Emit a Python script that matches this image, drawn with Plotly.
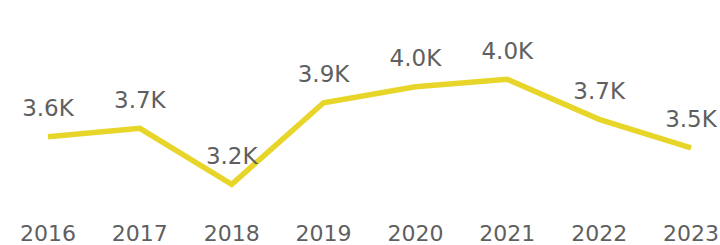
import plotly.graph_objects as go

years = ["2016", "2017", "2018", "2019", "2020", "2021", "2022", "2023"]
values = [3591, 3657, 3220, 3856, 3981, 4039, 3727, 3505]
labels = [f"{v/1000:.1f}K" for v in values]

LINE_COLOR = "#E8D52A"
TEXT_COLOR = "#5F5F5F"
FONT = "DejaVu Sans"

fig = go.Figure(
    go.Scatter(
        x=years,
        y=values,
        mode="lines+markers+text",
        text=labels,
        textposition="top center",
        textfont=dict(family=FONT, size=23, color=TEXT_COLOR),
        line=dict(color=LINE_COLOR, width=5.5),
        marker=dict(size=22, color="rgba(0,0,0,0)"),
        cliponaxis=False,
        hoverinfo="skip",
    )
)

fig.update_layout(
    width=720,
    height=245,
    margin=dict(l=0, r=0, t=0, b=30, autoexpand=False),
    paper_bgcolor="white",
    plot_bgcolor="white",
    showlegend=False,
    font=dict(family=FONT, color=TEXT_COLOR),
    xaxis=dict(
        type="category",
        range=[-0.5225, 7.3155],
        automargin=False,
        showgrid=False,
        zeroline=False,
        showline=False,
        ticks="",
        tickfont=dict(family=FONT, size=22, color=TEXT_COLOR),
        ticklabelstandoff=3,
    ),
    yaxis=dict(
        range=[2980.6, 4657.6],
        automargin=False,
        visible=False,
    ),
)

fig.write_html(
    "out.html",
    config={"displayModeBar": False},
    post_script="document.body.style.margin='0';document.body.style.overflow='hidden';",
)
